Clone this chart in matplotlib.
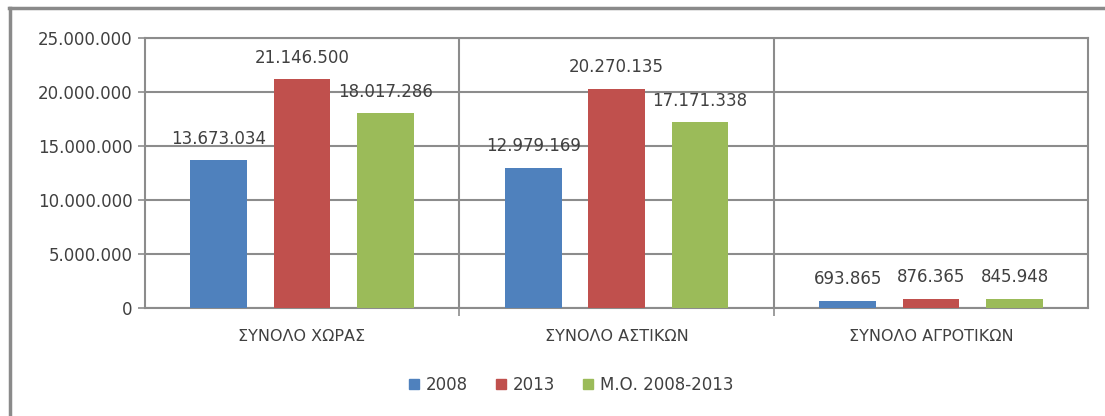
import numpy as np
import matplotlib.pyplot as plt
from matplotlib.lines import Line2D

# data
categories = ['ΣΥΝΟΛΟ ΧΩΡΑΣ', 'ΣΥΝΟΛΟ ΑΣΤΙΚΩΝ', 'ΣΥΝΟΛΟ ΑΓΡΟΤΙΚΩΝ']
series_names = ['2008', '2013', 'Μ.Ο. 2008-2013']
v2008 = [13673034, 12979169, 693865]
v2013 = [21146500, 20270135, 876365]
v_avg = [18017286, 17171338, 845948]
yticks = [0, 5000000, 10000000, 15000000, 20000000, 25000000]

colors = ['#4F81BD', '#C0504D', '#9BBB59']
grid_col = '#8c8c8c'
txt_col = '#404040'

def dots(v):
    return f'{int(v):,}'.replace(',', '.')

plt.rcParams['font.family'] = ['DejaVu Sans']

fig = plt.figure(figsize=(11.05, 4.16), dpi=100)
ax = fig.add_axes([0.131, 0.2596, 0.854, 0.6494])

x = np.arange(len(categories))
width = 0.18
offsets = [-0.265, 0, 0.265]
for vals, off, c in zip([v2008, v2013, v_avg], offsets, colors):
    bars = ax.bar(x + off, vals, width, color=c, zorder=3)
    for b, v in zip(bars, vals):
        ax.annotate(dots(v), (b.get_x() + b.get_width() / 2, v),
                    xytext=(0, 9), textcoords='offset points',
                    ha='center', va='bottom', fontsize=12, color=txt_col, zorder=4)

ax.set_xlim(-0.5, 2.5)
ax.set_ylim(0, 25000000)
ax.set_yticks(yticks)
ax.set_yticklabels([dots(t) for t in yticks])
ax.yaxis.grid(True, color=grid_col, linewidth=1.5, zorder=1)

# category separators
ax.set_xticks([0.5, 1.5], minor=False)
ax.set_xticklabels([])
ax.set_xticks(x, minor=True)
ax.set_xticklabels(categories, minor=True)
for sep in [0.5, 1.5]:
    ax.axvline(sep, color=grid_col, linewidth=1.5, zorder=1)
ax.tick_params(axis='x', which='major', length=6, width=1.2, color=grid_col)
ax.tick_params(axis='x', which='minor', length=0, pad=15, labelsize=11.5, labelcolor=txt_col)
ax.tick_params(axis='y', length=5, width=1.2, color=grid_col, labelsize=12, labelcolor=txt_col, pad=4)

for s in ax.spines.values():
    s.set_color(grid_col)
    s.set_linewidth(1.5)

handles = [Line2D([], [], marker='s', linestyle='', markersize=6.5, color=c) for c in colors]
fig.legend(handles, series_names, loc='center', bbox_to_anchor=(0.516, 0.075), ncol=3,
           frameon=False, fontsize=12, handletextpad=0.3, columnspacing=1.6,
           labelcolor=txt_col, handlelength=0.8)

# outer chart frame (top and left edges visible)
fig.add_artist(Line2D([0.008, 1.0], [0.981, 0.981], color='#8a8a8a', linewidth=2.5, transform=fig.transFigure))
fig.add_artist(Line2D([0.009, 0.009], [0.0, 0.981], color='#8a8a8a', linewidth=2.5, transform=fig.transFigure))

fig.savefig('out.png', dpi=100, facecolor='white')
